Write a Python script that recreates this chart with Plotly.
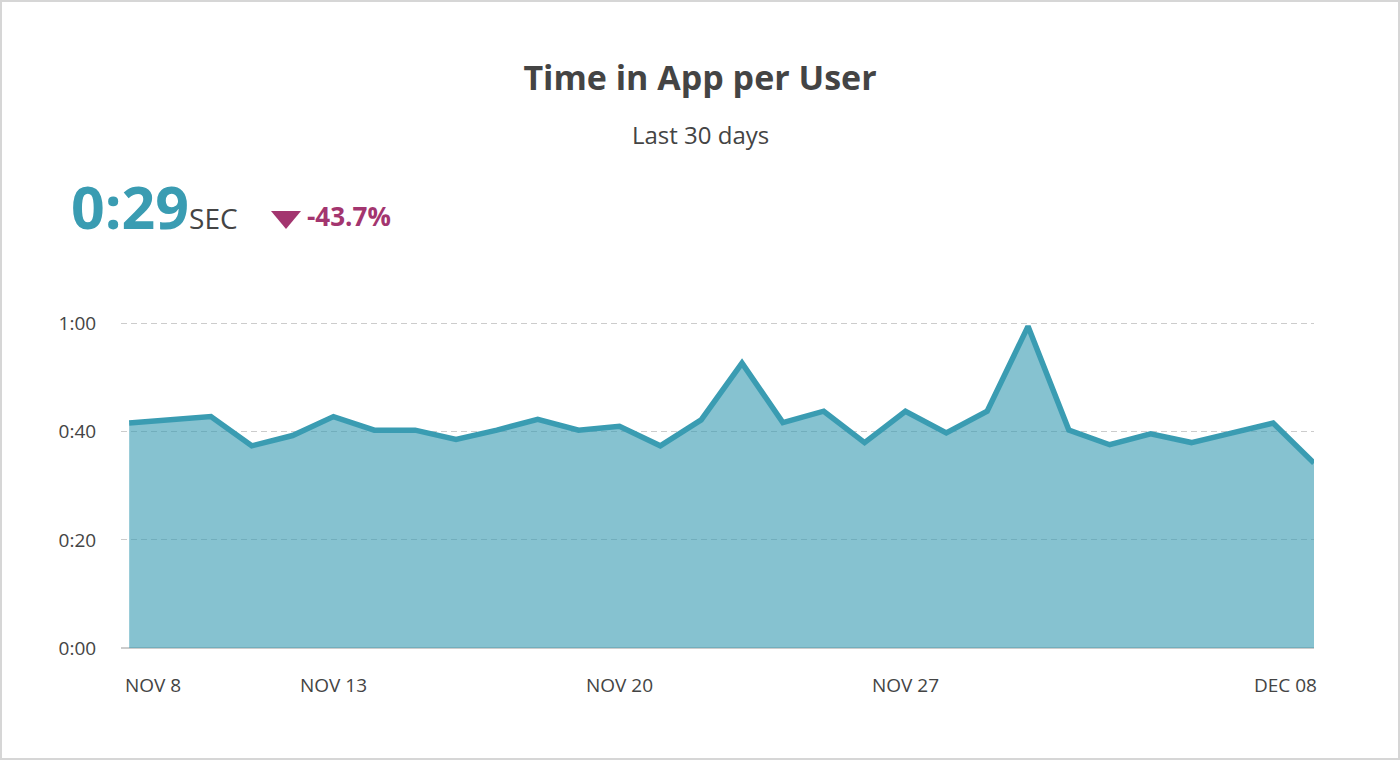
import plotly.graph_objects as go

# data (seconds per user, one point per day)
days = list(range(30))
seconds = [41.6, 42.2, 42.8, 37.4, 39.3, 42.8, 40.3, 40.3, 38.6, 40.3,
           42.3, 40.3, 41.0, 37.4, 42.2, 52.7, 41.7, 43.8, 38.0, 43.8,
           39.8, 43.8, 59.5, 40.3, 37.6, 39.6, 38.0, 39.8, 41.6, 34.2]
tick_days = [0, 5, 12, 19, 29]
tick_text = ["NOV 8", "NOV 13", "NOV 20", "NOV 27", "DEC 08"]
y_ticks = [0, 20, 40, 60]
y_text = ["0:00", "0:20", "0:40", "1:00"]

headline = "0:29"
change = "-43.7%"

W, H = 1400, 760
L, R, T, B = 121, 86, 302, 112
PW, PH = W - L - R, H - T - B

TEAL = "#3a9cb2"
PURPLE = "#a3356f"
TXT = "#444444"
FONT = "'Open Sans', Lato, sans-serif"


def px(x):
    return (x - L) / PW


def py(y):
    return (H - B - y) / PH


fig = go.Figure()
fig.add_trace(go.Scatter(
    x=days, y=seconds, mode="lines",
    line=dict(color=TEAL, width=5.5, shape="linear"),
    fill="tozeroy", fillcolor="rgba(58,156,178,0.61)",
    hoverinfo="skip",
))

annotations = [
    dict(text="Last 30 days", x=px(W / 2), xref="paper", y=py(134), yref="paper",
         xanchor="center", yanchor="middle", showarrow=False,
         font=dict(size=24, color=TXT, family=FONT)),
    dict(text="<b>" + headline + "</b><span style='font-size:28px;color:#444444'>SEC</span>",
         x=px(69), y=py(206), xref="paper", yref="paper", xanchor="left", yanchor="middle",
         showarrow=False, font=dict(size=59, color=TEAL, family=FONT)),
    dict(text="<b>" + change + "</b>", x=px(305), y=py(216), xref="paper", yref="paper",
         xanchor="left", yanchor="middle", showarrow=False,
         font=dict(size=26, color=PURPLE, family=FONT)),
]
# x tick labels: first one left-aligned, last right-aligned
for i, (d, t) in enumerate(zip(tick_days, tick_text)):
    anchor = "left" if i == 0 else ("right" if i == len(tick_days) - 1 else "center")
    annotations.append(dict(text=t, x=d, xref="x", y=py(685), yref="paper",
                            xanchor=anchor, yanchor="middle", showarrow=False,
                            xshift=-6 if i == 0 else (5 if anchor == "right" else 0),
                            font=dict(size=19, color=TXT, family=FONT)))

shapes = [
    # card border
    dict(type="rect", xref="paper", yref="paper", x0=px(1), x1=px(W - 1), y0=py(H - 1), y1=py(1),
         line=dict(color="#d6d6d6", width=2), fillcolor="rgba(0,0,0,0)", layer="below"),
    # down triangle
    dict(type="path", xref="paper", yref="paper",
         path="M {} {} L {} {} L {} {} Z".format(px(271), py(211), px(301), py(211), px(286), py(229)),
         fillcolor=PURPLE, line=dict(width=0)),
]

fig.update_layout(
    width=W, height=H,
    margin=dict(l=L, r=R, t=T, b=B),
    paper_bgcolor="white", plot_bgcolor="white",
    showlegend=False,
    title=dict(text="<b>Time in App per User</b>", x=0.5, xref="container", xanchor="center",
               y=1 - 78 / H, yanchor="middle",
               font=dict(size=34, color=TXT, family=FONT)),
    font=dict(family=FONT, color=TXT),
    xaxis=dict(range=[-0.2, 29], showgrid=False, zeroline=False, showticklabels=False,
               showline=False, fixedrange=True),
    yaxis=dict(range=[0, 64], tickvals=y_ticks, ticktext=y_text,
               showgrid=True, gridcolor="#cccccc", griddash="6px,4px", gridwidth=1,
               zeroline=True, zerolinecolor="#cccccc", zerolinewidth=2,
               ticks="outside", ticklen=20, tickcolor="rgba(0,0,0,0)",
               tickfont=dict(size=19, color=TXT, family=FONT), fixedrange=True),
    annotations=annotations,
    shapes=shapes,
)

fig.write_html("out.html", config={"displayModeBar": False},
               post_script="document.body.style.margin='0';")
